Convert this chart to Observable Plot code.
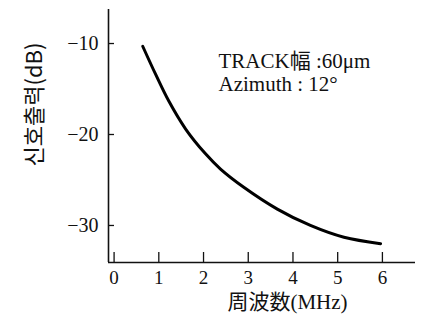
<!DOCTYPE html>
<html>
<head>
<meta charset="utf-8">
<script src="https://cdn.jsdelivr.net/npm/d3@7"></script>
<script src="https://cdn.jsdelivr.net/npm/@observablehq/plot@0.6"></script>
<style>
  html, body { margin: 0; padding: 0; background: #fff; }
  svg { display: block; }
</style>
</head>
<body>
<div id="chart"></div>
<script>
// Frequency (MHz) and signal output (dB)
const freq   = [0.64, 0.93, 1.22, 1.60, 2.04, 2.38, 2.90, 3.65, 4.39, 5.14, 5.96];
const output = [-10.3, -13.4, -16.3, -19.4, -22.1, -23.8, -25.8, -28.2, -30.0, -31.3, -32.0];
const xTicks = [0, 1, 2, 3, 4, 5, 6];
const yTicks = [-10, -20, -30];
const xLabel = "周波数(MHz)";
const yLabel = "신호출력(dB)";
const notes = ["TRACK幅 :60μm", "Azimuth : 12°"];

const data = freq.map((f, i) => ({f, v: output[i]}));
const xDomain = [-0.125, 6.74];
const yDomain = [-34.07, -6.26];

const serif = "'Liberation Serif', 'Noto Sans CJK JP', serif";

const chart = Plot.plot({
  width: 422,
  height: 329,
  marginLeft: 108,
  marginRight: 7,
  marginTop: 9,
  marginBottom: 67,
  style: {fontFamily: serif, fontSize: "18px", color: "#111", background: "#fff"},
  x: {domain: xDomain},
  y: {domain: yDomain},
  marks: [
    Plot.axisX({ticks: xTicks, tickFormat: d => String(d), tickSize: -10, tickPadding: 18, label: null,
      fontSize: 19, fontFamily: serif, style: "letter-spacing:1px", stroke: "#111", strokeWidth: 1.3}),
    Plot.axisY({ticks: yTicks, tickFormat: d => "\u2212" + Math.abs(d), tickSize: -6, tickPadding: 16, label: null,
      fontSize: 20, fontFamily: serif, style: "letter-spacing:1.5px", stroke: "#111", strokeWidth: 1.3}),
    Plot.ruleX([xDomain[0]], {stroke: "#111", strokeWidth: 1.6}),
    Plot.ruleY([yDomain[0]], {stroke: "#111", strokeWidth: 1.6}),
    Plot.line(data, {x: "f", y: "v", curve: "catmull-rom", stroke: "#000", strokeWidth: 3}),
    Plot.text([notes.join("\n")], {frameAnchor: "top-left", dx: 110, dy: 42, textAnchor: "start", lineAnchor: "top",
      lineHeight: 1.1, fontSize: 21, fontFamily: serif, fill: "#111", style: "letter-spacing:2px"}),
    Plot.text([xLabel], {frameAnchor: "bottom", dx: 25.5, dy: 46, textAnchor: "middle", fontSize: 21, fontFamily: serif,
      fill: "#111", style: "letter-spacing:4px"}),
    Plot.text([yLabel], {frameAnchor: "top-left", rotate: -90, dx: -82, dy: 95, textAnchor: "middle", fontSize: 22,
      fill: "#111", fontFamily: "'Noto Sans CJK KR', 'Liberation Serif', sans-serif", style: "letter-spacing:4px"})
  ]
});
document.getElementById("chart").appendChild(chart);
</script>
</body>
</html>
